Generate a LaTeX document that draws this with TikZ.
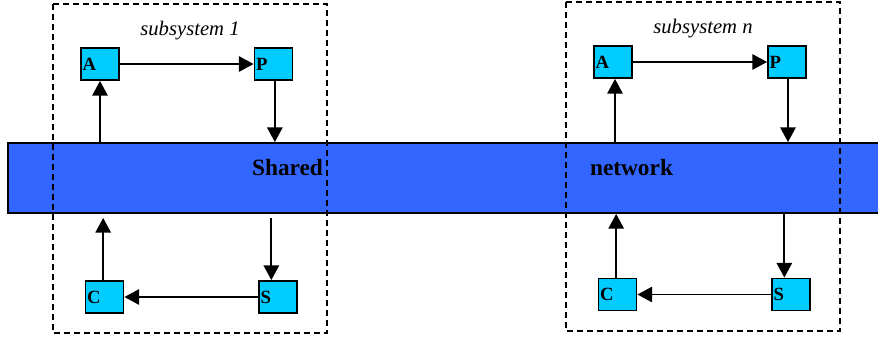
\documentclass[tikz,border=0pt]{standalone}
\usepackage{fontspec}
\setmainfont{Liberation Serif}
\usetikzlibrary{arrows.meta}
\definecolor{celeste}{HTML}{00CCFF}
\definecolor{azulred}{HTML}{3366FF}
\tikzset{
	caja/.style={draw,line width=1.4pt,fill=celeste,minimum height=24pt,text width=26pt,inner xsep=1.25pt,inner ysep=0pt,align=left,font=\fontsize{14}{16}\selectfont\bfseries},
	flecha/.style={line width=1.4pt,-{Triangle[length=11pt,width=11.5pt]}},
	subsis/.style={dash pattern=on 4.5pt off 3pt,line width=1.3pt},
	rotulo/.style={font=\fontsize{15.5}{18}\selectfont\itshape,inner sep=0pt,anchor=base}
}
\begin{document}
\begin{tikzpicture}[x=0.75pt,y=-0.75pt]
	\useasboundingbox (0,0) rectangle (878,340);

	% Red compartida
	\node[draw,line width=1.4pt,fill=azulred,minimum width=657.75pt,minimum height=52.5pt,inner sep=0pt] (red) at (446.5,178) {};
	\node[font=\fontsize{17.5}{20}\selectfont\bfseries,inner sep=0pt] (shared) at (287.5,167.5) {Shared};
	\node[font=\fontsize{17.5}{20}\selectfont\bfseries,inner sep=0pt] (network) at (631.5,167.5) {network};

	% subsistema 1
	\draw[subsis] (53,4) rectangle (327,333);
	\node[rotulo] (sub1) at (190,35) {subsystem 1};
	\node[caja] (A1) at (100,64) {A};
	\node[caja] (P1) at (273.5,64) {P};
	\node[caja] (C1) at (104.5,297) {C};
	\node[caja] (S1) at (278,297) {S};
	\draw[flecha] (A1) -- (P1);
	\draw[flecha] ([xshift=1pt]P1.south) -- ([xshift=1pt]P1.south |- red.north);
	\draw[flecha] (A1.south |- red.north) -- (A1.south);
	\draw[flecha] ([xshift=-5pt,yshift=-3pt]S1.north |- red.south) -- ([xshift=-5pt]S1.north);
	\draw[flecha] ([xshift=-1pt]C1.north) -- ([xshift=-1pt,yshift=-3pt]C1.north |- red.south);
	\draw[flecha] (S1) -- (C1);

	% subsistema n
	\draw[subsis] (566,2) rectangle (840,331);
	\node[rotulo] (subn) at (703,33) {subsystem \textit{n}};
	\node[caja] (An) at (613,62) {A};
	\node[caja] (Pn) at (787,62) {P};
	\node[caja] (Cn) at (617.5,294.5) {C};
	\node[caja] (Sn) at (791,294.5) {S};
	\draw[flecha] (An) -- (Pn);
	\draw[flecha] ([xshift=0.75pt]Pn.south) -- ([xshift=0.75pt]Pn.south |- red.north);
	\draw[flecha] ([xshift=1.5pt]An.south |- red.north) -- ([xshift=1.5pt]An.south);
	\draw[flecha] ([xshift=-5pt]Sn.north |- red.south) -- ([xshift=-5pt]Sn.north);
	\draw[flecha] ([xshift=-1pt]Cn.north) -- ([xshift=-1pt]Cn.north |- red.south);
	\draw[flecha] (Sn) -- (Cn);
\end{tikzpicture}
\end{document}
